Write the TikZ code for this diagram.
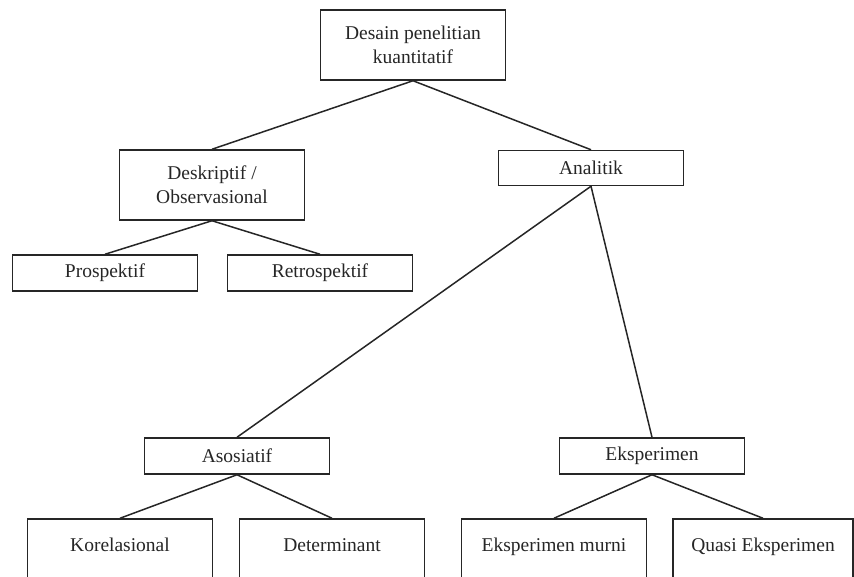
\documentclass[tikz,border=0pt]{standalone}
\usepackage{fontspec}
\setmainfont{Liberation Serif}
\begin{document}
\begin{tikzpicture}[x=1pt,y=-1pt,
  box/.style={draw=black!85, line width=1.5pt, minimum width=185pt, inner sep=2pt, align=center, font=\fontsize{19.5}{24}\selectfont, text=black!85},
  link/.style={draw=black!85, line width=1.5pt}]
\useasboundingbox (0,0) rectangle (854,577);
\begin{scope}
\clip (0,0) rectangle (854,577);
\node[box, minimum height=70pt] (top) at (413,45) {Desain penelitian\\kuantitatif};
\node[box, minimum height=70pt] (desk) at (212,185) {Deskriptif /\\Observasional};
\node[box, minimum height=35pt] (anal) at (591,168) {Analitik};
\node[box, minimum height=36pt] (pros) at (105,273) {Prospektif};
\node[box, minimum height=36pt] (retr) at (320,273) {Retrospektif};
\node[box, minimum height=36pt] (asos) at (237,456) {Asosiatif};
\node[box, minimum height=36pt] (eksp) at (652,456) {Eksperimen};
\node[box, minimum height=64pt, text depth=12pt] (kore) at (120,551) {Korelasional};
\node[box, minimum height=64pt, text depth=12pt] (dete) at (332,551) {Determinant};
\node[box, minimum height=64pt, text depth=12pt] (murn) at (554,551) {Eksperimen murni};
\node[box, minimum height=64pt, text depth=12pt, minimum width=180pt] (quas) at (763,551) {Quasi Eksperimen};
\draw[link] (top.south) -- (desk.north);
\draw[link] (top.south) -- (anal.north);
\draw[link] (desk.south) -- (pros.north);
\draw[link] (desk.south) -- (retr.north);
\draw[link] (anal.south) -- (asos.north);
\draw[link] (anal.south) -- (eksp.north);
\draw[link] (asos.south) -- (kore.north);
\draw[link] (asos.south) -- (dete.north);
\draw[link] (eksp.south) -- (murn.north);
\draw[link] (eksp.south) -- (quas.north);
\end{scope}
\end{tikzpicture}
\end{document}
